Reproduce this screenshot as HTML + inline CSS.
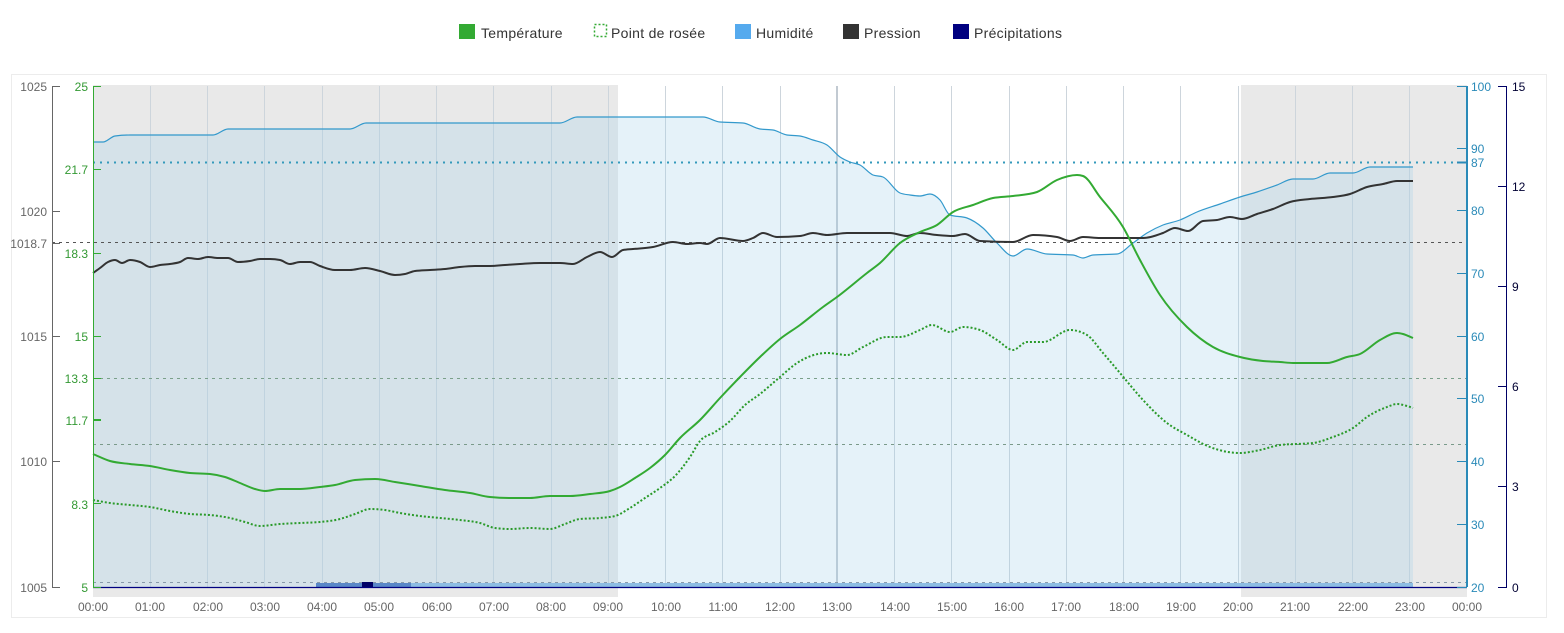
<!DOCTYPE html>
<html><head><meta charset="utf-8"><style>
html,body{margin:0;padding:0;background:#fff;}
svg{display:block;font-family:"Liberation Sans",Arial,sans-serif;}
</style></head><body>
<svg id="chart" width="1564" height="633" viewBox="0 0 1564 633" xmlns="http://www.w3.org/2000/svg">
<!-- legend -->
<g font-size="14" fill="#333" letter-spacing="0.3">
<rect x="459" y="24" width="16" height="15" fill="#33aa33"/>
<text x="481" y="38">Température</text>
<rect x="594.5" y="24.5" width="12" height="12" fill="none" stroke="#33aa33" stroke-width="1.5" stroke-dasharray="2,2"/>
<text x="611" y="38">Point de rosée</text>
<rect x="735" y="24" width="16" height="15" fill="#55aaee"/>
<text x="756" y="38">Humidité</text>
<rect x="843" y="24" width="16" height="15" fill="#333"/>
<text x="864" y="38">Pression</text>
<rect x="953" y="24" width="16" height="15" fill="#000080"/>
<text x="974" y="38">Précipitations</text>
</g>
<!-- frame -->
<rect x="11.5" y="74.5" width="1535" height="543" fill="none" stroke="#ececec"/>
<!-- night bands -->
<rect x="93" y="85" width="525" height="512" fill="#e9e9e9"/>
<rect x="1241" y="85" width="226" height="512" fill="#e9e9e9"/>
<!-- vertical gridlines -->
<g stroke="#cdd5dc" stroke-width="1">
<line x1="150.5" y1="86" x2="150.5" y2="587"/>
<line x1="207.5" y1="86" x2="207.5" y2="587"/>
<line x1="264.5" y1="86" x2="264.5" y2="587"/>
<line x1="322.5" y1="86" x2="322.5" y2="587"/>
<line x1="379.5" y1="86" x2="379.5" y2="587"/>
<line x1="436.5" y1="86" x2="436.5" y2="587"/>
<line x1="493.5" y1="86" x2="493.5" y2="587"/>
<line x1="551.5" y1="86" x2="551.5" y2="587"/>
<line x1="608.5" y1="86" x2="608.5" y2="587"/>
<line x1="665.5" y1="86" x2="665.5" y2="587"/>
<line x1="722.5" y1="86" x2="722.5" y2="587"/>
<line x1="780.5" y1="86" x2="780.5" y2="587"/>
<line x1="837" y1="86" x2="837" y2="587" stroke="#c2cad2" stroke-width="2"/>
<line x1="894.5" y1="86" x2="894.5" y2="587"/>
<line x1="951.5" y1="86" x2="951.5" y2="587"/>
<line x1="1009.5" y1="86" x2="1009.5" y2="587"/>
<line x1="1066.5" y1="86" x2="1066.5" y2="587"/>
<line x1="1123.5" y1="86" x2="1123.5" y2="587"/>
<line x1="1180.5" y1="86" x2="1180.5" y2="587"/>
<line x1="1238.5" y1="86" x2="1238.5" y2="587"/>
<line x1="1295.5" y1="86" x2="1295.5" y2="587"/>
<line x1="1352.5" y1="86" x2="1352.5" y2="587"/>
<line x1="1409.5" y1="86" x2="1409.5" y2="587"/>
</g>
<!-- humidity area -->
<polygon id="humArea" fill="rgba(160,207,233,0.27)" points="93,587 93,142 103,142 115,136 130,135 213,135 228,129 350,129 366,123 560,123 577,117 703,117 720,122 743,123 760,129 773,130 787,135 800,136 813,140 827,145 840,157 850,162 860,165 873,175 883,177 900,193 910,195 920,196 930,194 940,200 950,215 967,218 983,228 997,243 1013,256 1027,249 1047,254 1073,255 1083,258 1093,255 1117,254 1133,243 1147,233 1163,225 1180,220 1197,212 1220,204 1240,197 1257,192 1277,185 1293,179 1313,179 1330,173 1353,173 1370,167 1413,167 1413,587"/>
<polyline class="sm" id="humLine" fill="none" stroke="#3399cc" stroke-width="1.2" stroke-linejoin="round" points="93,142 103,142 115,136 130,135 213,135 228,129 350,129 366,123 560,123 577,117 703,117 720,122 743,123 760,129 773,130 787,135 800,136 813,140 827,145 840,157 850,162 860,165 873,175 883,177 900,193 910,195 920,196 930,194 940,200 950,215 967,218 983,228 997,243 1013,256 1027,249 1047,254 1073,255 1083,258 1093,255 1117,254 1133,243 1147,233 1163,225 1180,220 1197,212 1220,204 1240,197 1257,192 1277,185 1293,179 1313,179 1330,173 1353,173 1370,167 1413,167"/>
<!-- plot lines -->
<line x1="93" y1="162.5" x2="1467" y2="162.5" stroke="#3399bb" stroke-width="2" stroke-dasharray="2,5"/>
<line x1="52" y1="242.5" x2="1467" y2="242.5" stroke="#555" stroke-width="1" stroke-dasharray="3,4"/>
<line x1="93" y1="378.5" x2="1467" y2="378.5" stroke="#7aa08a" stroke-width="1" stroke-dasharray="3,4"/>
<line x1="93" y1="444.5" x2="1467" y2="444.5" stroke="#7a9a8a" stroke-width="1" stroke-dasharray="3,4"/>
<line x1="93" y1="582.5" x2="1467" y2="582.5" stroke="#8899aa" stroke-width="1" stroke-dasharray="3,4"/>
<!-- precipitation -->
<rect x="316" y="583" width="1097" height="4" fill="#8dbde3"/>
<rect x="316" y="583" width="46" height="4" fill="#5a88c8"/>
<rect x="373" y="583" width="38" height="4" fill="#5a88c8"/>
<rect x="362" y="582" width="11" height="5" fill="#000066"/>
<!-- x axis line -->
<line x1="93" y1="587.5" x2="1467" y2="587.5" stroke="#000080" stroke-width="1.2"/>
<!-- pressure -->
<polyline class="sm" fill="none" stroke="#333" stroke-width="2" stroke-linejoin="round" points="93,273 100,268 108,262 115,260 122,263 130,260 140,262 150,267 160,265 170,264 180,262 188,258 198,259 208,257 218,258 228,258 238,262 250,261 260,259 270,259 280,260 290,264 300,262 310,262 320,266 335,270 350,270 365,268 380,271 395,275 405,274 415,271 430,270 445,269 460,267 475,266 490,266 505,265 520,264 540,263 560,263 573,264 587,257 600,252 612,257 623,250 633,249 653,247 673,242 687,244 700,243 707,244 720,238 743,241 753,238 763,233 777,237 800,236 813,233 827,235 847,233 867,233 890,233 907,236 920,233 937,235 953,236 965,234 980,241 1013,242 1033,235 1057,237 1070,241 1083,237 1100,238 1143,238 1163,233 1175,228 1188,231 1203,221 1217,220 1230,217 1242,219 1257,214 1273,209 1290,202 1310,199 1333,197 1350,194 1367,187 1383,184 1397,181 1413,181"/>
<!-- temperature -->
<polyline class="sm" fill="none" stroke="#33aa33" stroke-width="2" stroke-linejoin="round" points="93,454 110,461 130,464 150,466 170,470 190,473 210,474 225,477 240,483 255,489 265,491 280,489 300,489 320,487 335,485 355,480 375,479 395,482 420,486 445,490 470,493 490,497 510,498 530,498 550,496 570,496 590,494 610,491 620,487 635,478 650,468 665,455 680,438 700,420 720,398 740,377 760,357 780,339 800,325 823,307 837,297 867,273 880,263 900,243 920,232 937,225 953,212 973,205 993,198 1013,196 1037,192 1057,180 1077,175 1083,176 1100,197 1123,227 1140,260 1160,295 1187,327 1213,347 1240,357 1263,361 1280,362 1293,363 1327,363 1347,357 1360,354 1380,340 1397,333 1403,334 1413,338"/>
<!-- dew point -->
<polyline class="sm" fill="none" stroke="#2a9a2a" stroke-width="2" stroke-dasharray="2,2" stroke-linejoin="round" points="93,500 110,503 130,505 150,507 170,511 190,514 210,515 230,518 245,522 260,526 280,524 300,523 320,522 340,519 355,514 370,509 385,510 400,513 420,516 440,518 460,520 480,523 495,528 510,529 530,528 550,529 565,524 580,519 600,518 615,516 630,508 645,498 660,488 675,476 690,457 700,441 715,432 730,421 745,405 760,394 780,377 797,363 827,353 847,355 863,347 887,337 900,337 920,330 932,325 950,332 963,327 980,330 997,340 1013,350 1027,342 1043,342 1070,330 1087,335 1103,353 1120,373 1143,400 1167,423 1187,435 1210,447 1240,453 1260,450 1280,445 1313,443 1333,437 1353,428 1367,417 1387,407 1397,404 1407,406 1413,408"/>
<!-- pressure axis -->
<g stroke="#666" stroke-width="1">
<line x1="52.5" y1="86" x2="52.5" y2="587"/>
<line x1="52" y1="86.5" x2="60" y2="86.5"/>
<line x1="52" y1="211.5" x2="60" y2="211.5"/>
<line x1="52" y1="243.5" x2="60" y2="243.5"/>
<line x1="52" y1="336.5" x2="60" y2="336.5"/>
<line x1="52" y1="461.5" x2="60" y2="461.5"/>
<line x1="52" y1="587.5" x2="60" y2="587.5"/>
</g>
<g font-size="12" fill="#666" text-anchor="end">
<text x="47" y="91">1025</text>
<text x="47" y="216">1020</text>
<text x="47" y="248">1018.7</text>
<text x="47" y="341">1015</text>
<text x="47" y="466">1010</text>
<text x="47" y="592">1005</text>
</g>
<!-- temperature axis -->
<g stroke="#33aa33" stroke-width="1">
<line x1="93.5" y1="86" x2="93.5" y2="587"/>
<line x1="93" y1="86.5" x2="101" y2="86.5"/>
<line x1="93" y1="169.5" x2="101" y2="169.5"/>
<line x1="93" y1="253.5" x2="101" y2="253.5"/>
<line x1="93" y1="336.5" x2="101" y2="336.5"/>
<line x1="93" y1="378.5" x2="101" y2="378.5"/>
<line x1="93" y1="420" x2="101" y2="420" stroke-width="2"/>
<line x1="93" y1="503.5" x2="101" y2="503.5"/>
<line x1="93" y1="587.5" x2="101" y2="587.5"/>
</g>
<g font-size="12" fill="#339933" text-anchor="end">
<text x="88" y="91">25</text>
<text x="88" y="174">21.7</text>
<text x="88" y="258">18.3</text>
<text x="88" y="341">15</text>
<text x="88" y="383">13.3</text>
<text x="88" y="425">11.7</text>
<text x="88" y="509">8.3</text>
<text x="88" y="592">5</text>
</g>
<!-- humidity axis -->
<g stroke="#2a8ab8" stroke-width="1">
<line x1="1467" y1="86" x2="1467" y2="587" stroke-width="2"/>
<line x1="1457" y1="86.5" x2="1467" y2="86.5"/>
<line x1="1457" y1="148.5" x2="1467" y2="148.5"/>
<line x1="1457" y1="162.5" x2="1467" y2="162.5" stroke-width="2"/>
<line x1="1457" y1="210.5" x2="1467" y2="210.5"/>
<line x1="1457" y1="273.5" x2="1467" y2="273.5"/>
<line x1="1457" y1="336.5" x2="1467" y2="336.5"/>
<line x1="1457" y1="398.5" x2="1467" y2="398.5"/>
<line x1="1457" y1="461.5" x2="1467" y2="461.5"/>
<line x1="1457" y1="524.5" x2="1467" y2="524.5"/>
<line x1="1457" y1="587.5" x2="1467" y2="587.5"/>
</g>
<g font-size="12" fill="#2a8ab8">
<text x="1471" y="91">100</text>
<text x="1471" y="153">90</text>
<text x="1471" y="167">87</text>
<text x="1471" y="215">80</text>
<text x="1471" y="278">70</text>
<text x="1471" y="341">60</text>
<text x="1471" y="403">50</text>
<text x="1471" y="466">40</text>
<text x="1471" y="529">30</text>
<text x="1471" y="592">20</text>
</g>
<!-- precip axis -->
<g stroke="#000066" stroke-width="1">
<line x1="1506.5" y1="86" x2="1506.5" y2="587"/>
<line x1="1498" y1="86.5" x2="1507" y2="86.5"/>
<line x1="1498" y1="186.5" x2="1507" y2="186.5"/>
<line x1="1498" y1="286.5" x2="1507" y2="286.5"/>
<line x1="1498" y1="386.5" x2="1507" y2="386.5"/>
<line x1="1498" y1="486.5" x2="1507" y2="486.5"/>
<line x1="1498" y1="587.5" x2="1507" y2="587.5"/>
</g>
<g font-size="12" fill="#000033">
<text x="1512" y="91">15</text>
<text x="1512" y="191">12</text>
<text x="1512" y="291">9</text>
<text x="1512" y="391">6</text>
<text x="1512" y="491">3</text>
<text x="1512" y="592">0</text>
</g>
<!-- x labels -->
<g font-size="12" fill="#666" text-anchor="middle">
<text x="93" y="611">00:00</text>
<text x="150" y="611">01:00</text>
<text x="208" y="611">02:00</text>
<text x="265" y="611">03:00</text>
<text x="322" y="611">04:00</text>
<text x="379" y="611">05:00</text>
<text x="437" y="611">06:00</text>
<text x="494" y="611">07:00</text>
<text x="551" y="611">08:00</text>
<text x="608" y="611">09:00</text>
<text x="666" y="611">10:00</text>
<text x="723" y="611">11:00</text>
<text x="780" y="611">12:00</text>
<text x="837" y="611">13:00</text>
<text x="895" y="611">14:00</text>
<text x="952" y="611">15:00</text>
<text x="1009" y="611">16:00</text>
<text x="1066" y="611">17:00</text>
<text x="1124" y="611">18:00</text>
<text x="1181" y="611">19:00</text>
<text x="1238" y="611">20:00</text>
<text x="1295" y="611">21:00</text>
<text x="1353" y="611">22:00</text>
<text x="1410" y="611">23:00</text>
<text x="1467" y="611">00:00</text>
</g>
</svg>
<script>
(function(){
  var NS="http://www.w3.org/2000/svg";
  function parse(s){return s.trim().split(/\s+/).map(function(p){var a=p.split(",");return [parseFloat(a[0]),parseFloat(a[1])];});}
  function sign(v){return v<0?-1:(v>0?1:0);}
  function smooth(P){
    var n=P.length,t=new Array(n),s=new Array(n-1),i;
    for(i=0;i<n-1;i++){s[i]=(P[i+1][1]-P[i][1])/(P[i+1][0]-P[i][0]);}
    t[0]=s[0];t[n-1]=s[n-2];
    for(i=1;i<n-1;i++){
      var h0=P[i][0]-P[i-1][0],h1=P[i+1][0]-P[i][0];
      var s0=s[i-1],s1=s[i];
      var p=(s0*h1+s1*h0)/(h0+h1);
      t[i]=(sign(s0)+sign(s1))*Math.min(Math.abs(s0),Math.abs(s1),0.5*Math.abs(p))||0;
    }
    var d="M"+P[0][0]+","+P[0][1];
    for(i=0;i<n-1;i++){
      var dx=(P[i+1][0]-P[i][0])/3;
      d+=" C"+(P[i][0]+dx).toFixed(2)+","+(P[i][1]+dx*t[i]).toFixed(2)+" "+(P[i+1][0]-dx).toFixed(2)+","+(P[i+1][1]-dx*t[i+1]).toFixed(2)+" "+P[i+1][0]+","+P[i+1][1];
    }
    return d;
  }
  var lines=document.querySelectorAll("polyline.sm");
  for(var k=0;k<lines.length;k++){
    var pl=lines[k];
    var P=parse(pl.getAttribute("points"));
    var d=smooth(P);
    var path=document.createElementNS(NS,"path");
    ["fill","stroke","stroke-width","stroke-dasharray","stroke-linejoin"].forEach(function(a){var v=pl.getAttribute(a);if(v)path.setAttribute(a,v);});
    path.setAttribute("d",d);
    pl.parentNode.replaceChild(path,pl);
    if(pl.id==="humLine"){
      var area=document.getElementById("humArea");
      var ap=document.createElementNS(NS,"path");
      ap.setAttribute("fill",area.getAttribute("fill"));
      ap.setAttribute("d",d+" L"+P[n_last(P)][0]+",587 L"+P[0][0]+",587 Z");
      area.parentNode.replaceChild(ap,area);
    }
  }
  function n_last(P){return P.length-1;}
})();
</script>
</body></html>
